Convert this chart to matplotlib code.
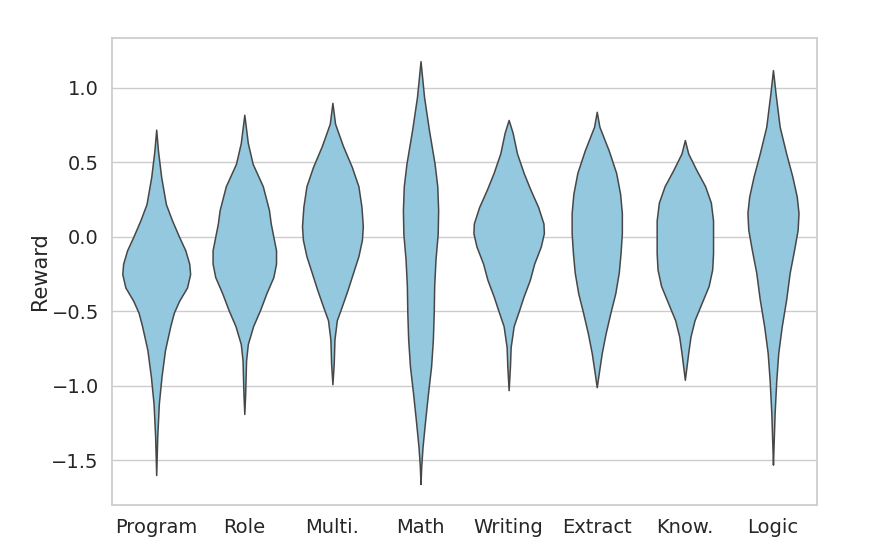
"""Violin plot of reward per task category
"""
import matplotlib
matplotlib.use('Agg')
import matplotlib.pyplot as plt
import seaborn as sns

categories = ['Program', 'Role', 'Multi.', 'Math', 'Writing', 'Extract', 'Know.', 'Logic']

# violin outlines: reward levels and half-widths (category units)
program_y = [0.72, 0.58, 0.40, 0.22, 0.11, 0.0, -0.09, -0.18, -0.25, -0.34, -0.43, -0.51,
             -0.60, -0.76, -0.94, -1.12, -1.34, -1.60]
program_w = [0.0, 0.02, 0.057, 0.11, 0.18, 0.26, 0.33, 0.375, 0.385, 0.35, 0.26, 0.20,
             0.16, 0.10, 0.06, 0.03, 0.012, 0.0]
role_y = [0.82, 0.63, 0.49, 0.34, 0.18, 0.09, 0.0, -0.09, -0.18, -0.27, -0.38, -0.49,
          -0.60, -0.72, -0.83, -1.05, -1.19]
role_w = [0.0, 0.04, 0.095, 0.21, 0.28, 0.30, 0.33, 0.36, 0.36, 0.33, 0.25, 0.18,
          0.10, 0.04, 0.02, 0.01, 0.0]
multi_y = [0.90, 0.76, 0.61, 0.47, 0.34, 0.20, 0.07, -0.02, -0.13, -0.24, -0.36, -0.47,
           -0.56, -0.69, -0.85, -0.99]
multi_w = [0.0, 0.03, 0.12, 0.22, 0.295, 0.33, 0.345, 0.335, 0.295, 0.235, 0.17, 0.105,
           0.05, 0.023, 0.015, 0.0]
math_y = [1.18, 0.94, 0.72, 0.49, 0.34, 0.18, 0.02, -0.15, -0.33, -0.51, -0.69, -0.87,
          -1.05, -1.23, -1.41, -1.54, -1.66]
math_w = [0.0, 0.04, 0.095, 0.16, 0.19, 0.20, 0.195, 0.17, 0.155, 0.15, 0.14, 0.12,
          0.085, 0.053, 0.023, 0.008, 0.0]
writing_y = [0.785, 0.70, 0.56, 0.43, 0.32, 0.20, 0.09, 0.025, -0.065, -0.18, -0.29, -0.40,
             -0.49, -0.60, -0.74, -0.87, -1.03]
writing_w = [0.0, 0.045, 0.095, 0.17, 0.245, 0.335, 0.395, 0.40, 0.365, 0.29, 0.24, 0.17,
             0.12, 0.057, 0.023, 0.015, 0.0]
extract_y = [0.84, 0.74, 0.58, 0.43, 0.29, 0.16, 0.025, -0.11, -0.24, -0.38, -0.51, -0.65,
             -0.78, -0.915, -1.01]
extract_w = [0.0, 0.03, 0.136, 0.22, 0.265, 0.285, 0.285, 0.27, 0.25, 0.21, 0.155, 0.10,
             0.057, 0.023, 0.0]
know_y = [0.65, 0.56, 0.45, 0.34, 0.23, 0.11, 0.0, -0.11, -0.22, -0.33, -0.445, -0.56,
          -0.67, -0.78, -0.87, -0.96]
know_w = [0.0, 0.038, 0.13, 0.23, 0.295, 0.32, 0.32, 0.32, 0.31, 0.27, 0.19, 0.11,
          0.064, 0.038, 0.019, 0.0]
logic_y = [1.12, 0.96, 0.74, 0.56, 0.405, 0.27, 0.16, 0.047, -0.087, -0.24, -0.42, -0.60,
           -0.78, -0.96, -1.18, -1.38, -1.53]
logic_w = [0.0, 0.03, 0.076, 0.15, 0.22, 0.27, 0.29, 0.28, 0.24, 0.19, 0.15, 0.10,
           0.06, 0.038, 0.019, 0.008, 0.0]

profiles = [(program_y, program_w), (role_y, role_w), (multi_y, multi_w), (math_y, math_w),
            (writing_y, writing_w), (extract_y, extract_w), (know_y, know_w),
            (logic_y, logic_w)]

sns.set_theme(style='whitegrid')

fig, ax = plt.subplots(figsize=(8.9, 5.44), dpi=100)
fig.subplots_adjust(left=0.126, right=0.918, top=0.930, bottom=0.072)

for pos, (levels, half) in enumerate(profiles):
    left = [pos - w for w in half]
    right = [pos + w for w in half]
    ax.fill_betweenx(levels, left, right, facecolor='#93c8de', edgecolor='#474747',
                     linewidth=1.1, joinstyle='round', zorder=2)

ax.set_xlim(-0.5, 7.5)
ax.set_ylim(-1.80, 1.335)
ax.set_xticks(range(len(categories)))
ax.set_xticklabels(categories)
ax.set_yticks([-1.5, -1.0, -0.5, 0.0, 0.5, 1.0])
ax.tick_params(labelsize=14)
ax.set_ylabel('Reward', fontsize=15, labelpad=1)
ax.xaxis.grid(False)
ax.set_axisbelow(True)

fig.savefig('out.png', dpi=100)
